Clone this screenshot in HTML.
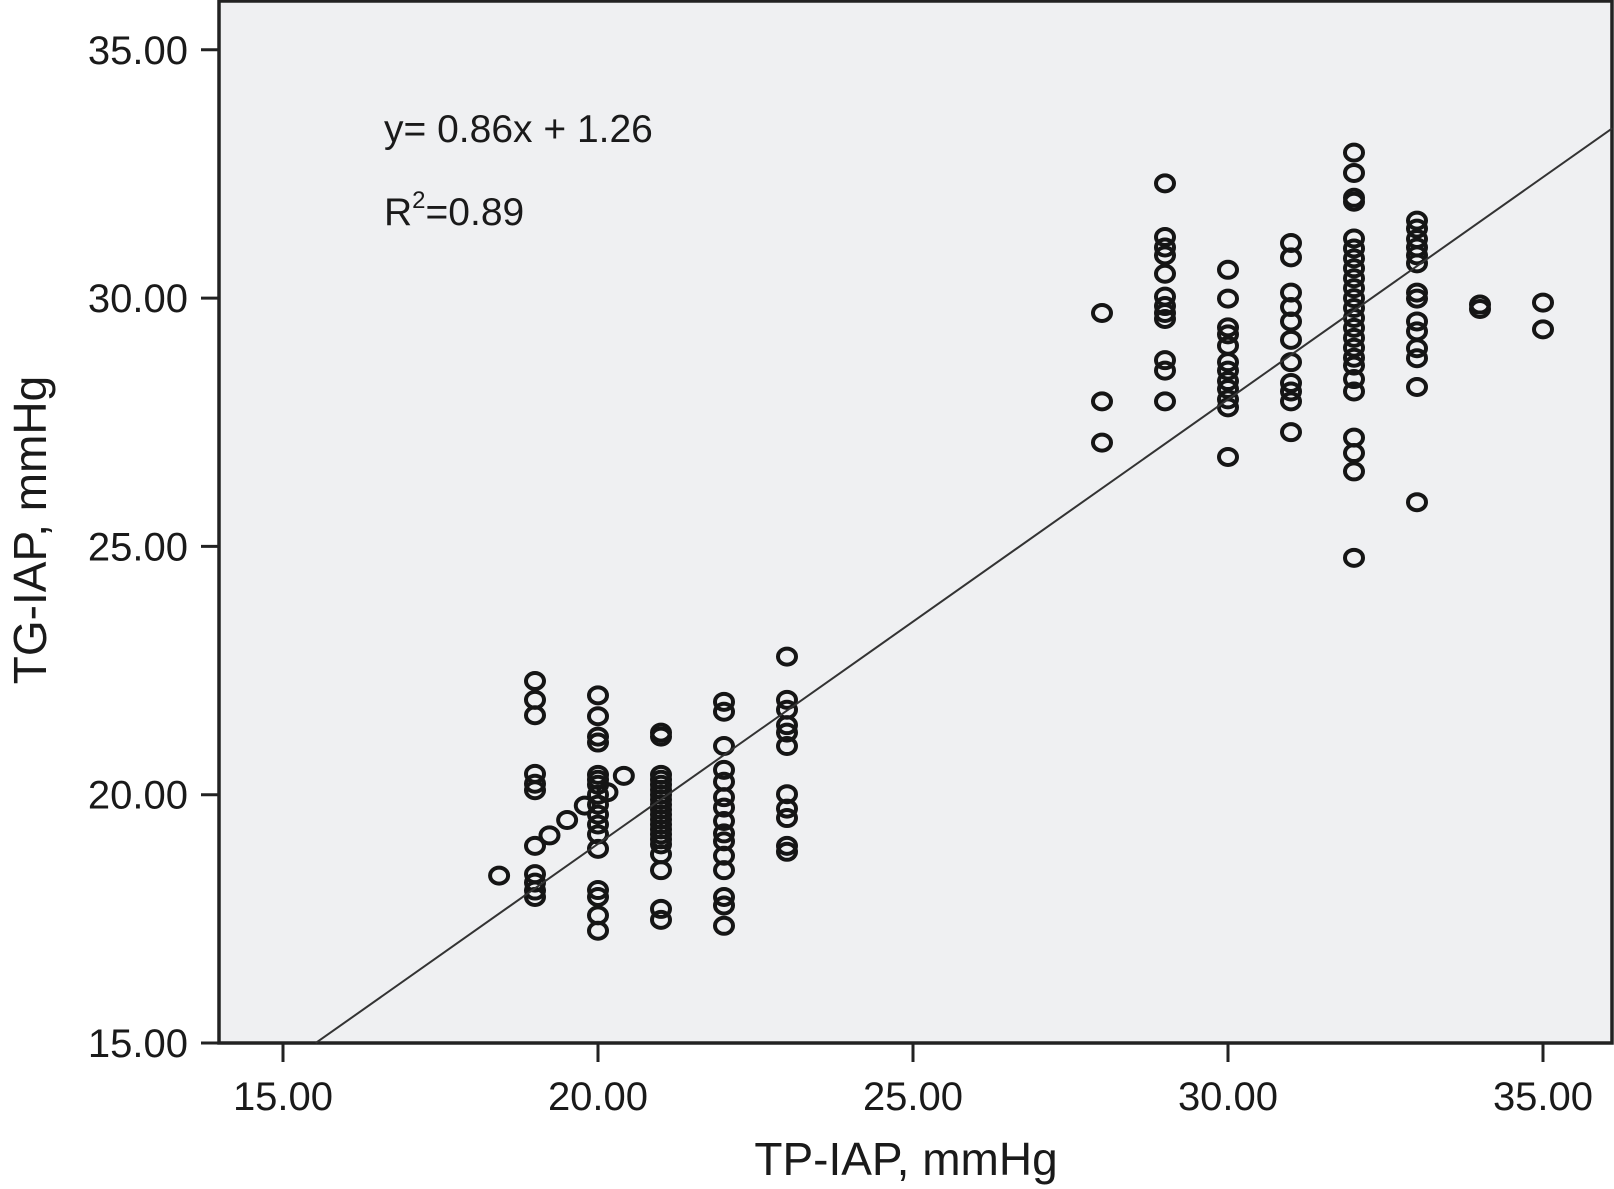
<!DOCTYPE html>
<html><head><meta charset="utf-8"><style>
html,body{margin:0;padding:0;background:#fff;}
svg{display:block;font-family:"Liberation Sans",Arial,sans-serif;}
</style></head><body>
<svg id="chart" width="1614" height="1189" viewBox="0 0 1614 1189" xmlns="http://www.w3.org/2000/svg">
<rect x="219" y="1" width="1393" height="1042" fill="#eff0f2" stroke="#222" stroke-width="3.5"/>
<g id="axes"></g>
<g id="points"></g>
<line id="fit" stroke="#333" stroke-width="2"/>
<text x="384" y="142" font-size="39" fill="#1a1a1a">y= 0.86x + 1.26</text>
<text x="384" y="225" font-size="39" fill="#1a1a1a">R<tspan dy="-17" font-size="24">2</tspan><tspan dy="17">=0.89</tspan></text>
<text x="906" y="1175" font-size="46" text-anchor="middle" fill="#1a1a1a">TP-IAP, mmHg</text>
<text transform="translate(46,530) rotate(-90)" font-size="46" text-anchor="middle" fill="#1a1a1a">TG-IAP, mmHg</text>
</svg>
<script>
const xTicks=[15,20,25,30,35];
const yTicks=[15,20,25,30,35];
const tickLabels=["15.00","20.00","25.00","30.00","35.00"];
const fitSlope=0.895, fitIntercept=1.11, fitXRange=[15.52,36.1];
const colX=[19,20,21,22,23,28,29,30,31,32,33,34,35];
const y19=[22.29,21.91,21.6,20.42,20.22,20.09,18.97,18.4,18.23,18.07,17.94];
const y20=[22.0,21.58,21.17,21.05,20.4,20.3,20.2,20.0,19.8,19.6,19.4,19.2,18.91,18.08,17.94,17.57,17.26];
const y21=[21.25,21.17,20.4,20.3,20.2,20.1,20.0,19.9,19.8,19.7,19.6,19.5,19.4,19.3,19.2,19.1,19.0,18.8,18.48,17.7,17.48];
const y22=[21.87,21.67,20.98,20.5,20.26,19.95,19.74,19.47,19.22,19.06,18.77,18.48,17.94,17.77,17.36];
const y23=[22.78,21.91,21.71,21.4,21.25,20.98,20.01,19.72,19.53,18.97,18.85];
const y28=[29.7,27.92,27.09];
const y29=[32.31,31.23,31.02,30.86,30.49,30.03,29.84,29.7,29.58,28.75,28.54,27.92];
const y30=[30.57,29.99,29.41,29.27,29.04,28.71,28.54,28.33,28.17,27.96,27.8,26.8];
const y31=[31.11,30.82,30.11,29.82,29.53,29.16,28.71,28.29,28.12,27.92,27.3];
const y32=[32.93,32.52,32.02,31.94,31.2,31.0,30.8,30.6,30.4,30.2,30.0,29.8,29.6,29.4,29.2,29.0,28.8,28.64,28.37,28.12,27.19,26.88,26.51,24.77];
const y33=[31.56,31.4,31.19,31.02,30.86,30.7,30.11,29.99,29.53,29.33,28.99,28.79,28.21,25.89];
const y34=[29.87,29.78];
const y35=[29.91,29.37];
const colY=[y19,y20,y21,y22,y23,y28,y29,y30,y31,y32,y33,y34,y35];
const strayX=[18.43,19.23,19.51,19.79,20.15,20.41];
const strayY=[18.37,19.18,19.49,19.78,20.05,20.38];
const NS="http://www.w3.org/2000/svg";
const sx=v=>283+(v-15)*63;
const sy=v=>1043-(v-15)*49.66;
const axes=document.getElementById('axes');
function mk(tag,attrs){const e=document.createElementNS(NS,tag);for(const k in attrs)e.setAttribute(k,attrs[k]);return e;}
xTicks.forEach((t,i)=>{
  const l=mk('line',{x1:sx(t),x2:sx(t),y1:1043,y2:1062,stroke:'#222','stroke-width':3});
  
  
  axes.appendChild(l);
  const tx=mk('text',{x:sx(t),y:1110,'font-size':40,'text-anchor':'middle',fill:'#1a1a1a'});
  tx.textContent=tickLabels[i];
  
  
  axes.appendChild(tx);
});
yTicks.forEach((t,i)=>{
  const l=mk('line',{x1:201,x2:219,y1:sy(t),y2:sy(t),stroke:'#222','stroke-width':3});
  
  
  axes.appendChild(l);
  const tx=mk('text',{x:188,y:sy(t)+14,'font-size':40,'text-anchor':'end',fill:'#1a1a1a'});
  tx.textContent=tickLabels[i];
  
  
  axes.appendChild(tx);
});
const pts=document.getElementById('points');
function addPt(x,y){
  const c=mk('ellipse',{cx:sx(x),cy:sy(y),rx:9,ry:8,fill:'none',stroke:'#151515','stroke-width':4});
  
  
  pts.appendChild(c);
}
colX.forEach((x,i)=>colY[i].forEach(y=>addPt(x,y)));
strayX.forEach((x,i)=>addPt(x,strayY[i]));
const f=document.getElementById('fit');
f.setAttribute('x1',sx(fitXRange[0]));f.setAttribute('y1',sy(fitSlope*fitXRange[0]+fitIntercept));
f.setAttribute('x2',sx(fitXRange[1]));f.setAttribute('y2',sy(fitSlope*fitXRange[1]+fitIntercept));
</script>
</body></html>
